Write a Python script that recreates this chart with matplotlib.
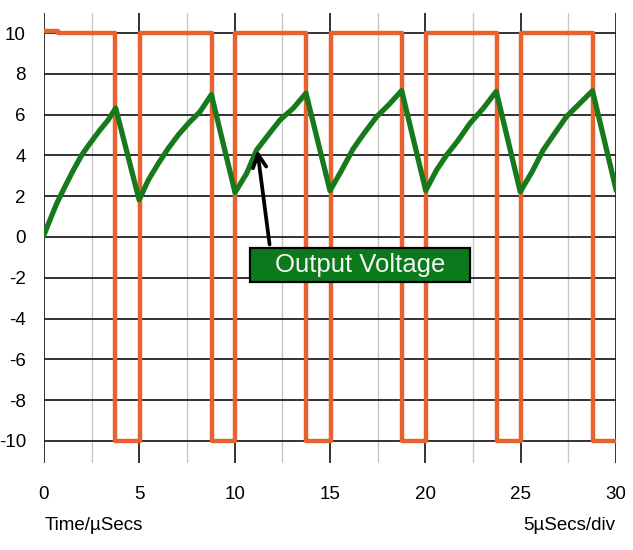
import matplotlib
matplotlib.use('Agg')
import matplotlib.pyplot as plt
from matplotlib.patches import Rectangle

plt.rcParams['font.family'] = ['Liberation Sans', 'DejaVu Sans']
plt.rcParams['axes.unicode_minus'] = False

# square-wave input: switching instants and the level held after each one
sq_t = [0, 0.75, 3.72, 5.03, 8.80, 10.02, 13.74, 15.03, 18.78, 20.03, 23.74, 25.04, 28.78, 30]
sq_v = [10.08, 10, -10, 10, -10, 10, -10, 10, -10, 10, -10, 10, -10, -10]

# output voltage
out_t = [0.0, 0.31, 0.67, 1.10, 1.54, 1.98, 2.41, 2.94, 3.37, 3.76,
         4.99, 5.47, 6.00, 6.52, 7.04, 7.57, 8.18, 8.78,
         10.02, 10.63, 11.15, 11.76, 12.38, 13.07, 13.74,
         15.00, 15.60, 16.20, 16.80, 17.45, 18.10, 18.76,
         20.02, 20.59, 21.12, 21.73, 22.34, 23.04, 23.72,
         24.98, 25.60, 26.18, 26.80, 27.40, 28.10, 28.77,
         30.0]
out_v = [0.1, 0.83, 1.65, 2.47, 3.28, 4.02, 4.59, 5.25, 5.74, 6.32,
         1.82, 2.79, 3.61, 4.35, 5.00, 5.57, 6.14, 6.98,
         2.18, 3.12, 4.26, 5.00, 5.74, 6.31, 7.05,
         2.27, 3.25, 4.30, 5.10, 5.90, 6.50, 7.18,
         2.28, 3.28, 4.02, 4.75, 5.57, 6.31, 7.14,
         2.22, 3.20, 4.26, 5.10, 5.90, 6.55, 7.17,
         2.34]

x_major = [0, 5, 10, 15, 20, 25, 30]
x_minor = [2.5, 7.5, 12.5, 17.5, 22.5, 27.5]
y_ticks = [-10, -8, -6, -4, -2, 0, 2, 4, 6, 8, 10]

ORANGE = '#E8622F'
GREEN = '#167A1C'

fig = plt.figure(figsize=(6.33, 5.5), dpi=100)
ax = fig.add_axes([0.0695, 0.1575, 0.9036, 0.8195])
ax.set_xlim(0, 30)
ax.set_ylim(-11.1, 11.0)

for x in x_minor:
    ax.axvline(x, color='#c8c8c8', lw=1.0, zorder=1)
for x in x_major:
    ax.axvline(x, color='#222222', lw=1.3, zorder=1)
ax.hlines(y_ticks, 0, 30, color='#222222', lw=1.3, zorder=1)

ax.step(sq_t, sq_v, where='post', color=ORANGE, lw=3.2, zorder=3,
        solid_joinstyle='round')
ax.plot(out_t, out_v, color=GREEN, lw=3.8, zorder=4, solid_joinstyle='round')

for s in ax.spines.values():
    s.set_visible(False)
ax.set_xticks(x_major)
ax.set_yticks(y_ticks)
ax.tick_params(length=0, labelsize=13.5)
ax.tick_params(axis='x', pad=16)
ax.tick_params(axis='y', pad=13)

# callout
ax.annotate('', xy=(11.17, 4.4), xytext=(11.85, -0.5),
            arrowprops=dict(arrowstyle='->', color='black', lw=2.7,
                            mutation_scale=24), zorder=5)
ax.add_patch(Rectangle((10.8, -2.2), 11.55, 1.66, fc='#0C7A1C', ec='black',
                       lw=1.6, zorder=6))
ax.text(16.6, -1.37, 'Output Voltage', fontsize=18.5, color='#f4f4f4',
        ha='center', va='center', zorder=7)

fig.text(0.071, 0.045, 'Time/\u00b5Secs', fontsize=13.5, ha='left', va='center')
fig.text(0.972, 0.045, '5\u00b5Secs/div', fontsize=13.5, ha='right', va='center')

fig.savefig('out.png', dpi=100, facecolor='white')
